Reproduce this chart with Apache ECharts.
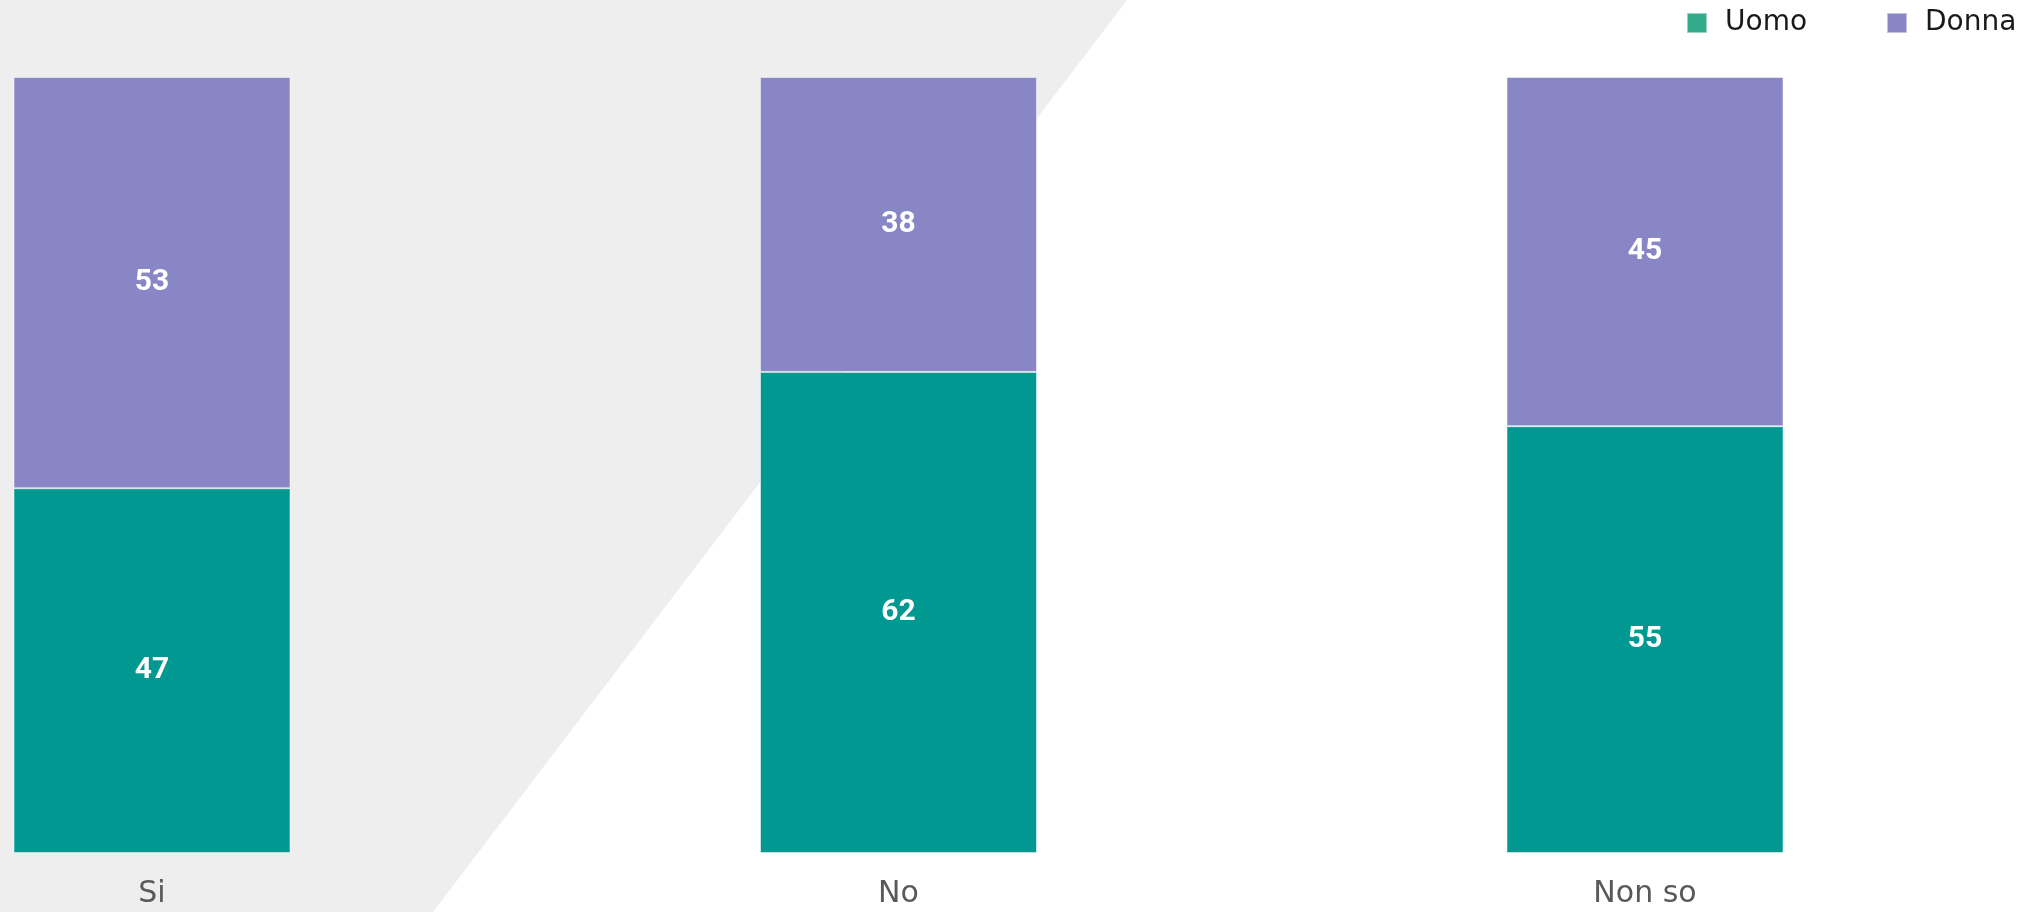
<!DOCTYPE html>
<html>
<head>
<meta charset="utf-8">
<script src="https://cdn.jsdelivr.net/npm/echarts@6/dist/echarts.min.js"></script>
<style>
html,body{margin:0;padding:0;background:#fff;}
#chart{width:2042px;height:912px;}
</style>
</head>
<body>
<div id="chart"></div>
<script>
const categories = ['Si', 'No', 'Non so'];
const seriesNames = ['Uomo', 'Donna'];
const uomoValues = [47, 62, 55];
const donnaValues = [53, 38, 45];

const chart = echarts.init(document.getElementById('chart'));
const labelStyle = {
  show: true, position: 'inside', color: '#ffffff',
  fontFamily: 'Roboto', fontWeight: 'bold', fontSize: 30
};
const legendText = { color: '#1a1a1a', fontFamily: 'DejaVu Sans', fontSize: 28, lineHeight: 28, padding: [0, 0, 0, 13] };
chart.setOption({
  animation: false,
  backgroundColor: '#ffffff',
  graphic: [{
    type: 'polygon', z: -10, silent: true,
    shape: { points: [[0, 0], [1127, 0], [433, 912], [0, 912]] },
    style: { fill: '#eeeeee' }
  }],
  legend: [
    { data: [{ name: seriesNames[0], itemStyle: { color: '#33aa8a' } }], left: 1686, top: 9, padding: 0,
      itemWidth: 20, itemHeight: 20, itemGap: 0, textStyle: legendText, icon: 'rect' },
    { data: [{ name: seriesNames[1], itemStyle: { color: '#8886c5' } }], left: 1886, top: 9, padding: 0,
      itemWidth: 20, itemHeight: 20, itemGap: 0, textStyle: legendText, icon: 'rect' }
  ],
  grid: { left: 152, right: 397, top: 77, bottom: 59, containLabel: false },
  xAxis: {
    type: 'category', data: categories, boundaryGap: false,
    axisLine: { show: false }, axisTick: { show: false },
    axisLabel: { color: '#595959', fontFamily: 'DejaVu Sans', fontSize: 30, margin: 26 }
  },
  yAxis: { type: 'value', min: 0, max: 100, show: false, splitLine: { show: false } },
  series: [
    { name: seriesNames[0], type: 'bar', stack: 'a', data: uomoValues, barWidth: 277,
      itemStyle: { color: '#019891', borderColor: 'rgba(255,255,255,0.5)', borderWidth: 1 },
      label: labelStyle },
    { name: seriesNames[1], type: 'bar', stack: 'a', data: donnaValues, barWidth: 277,
      itemStyle: { color: '#8886c5', borderColor: 'rgba(255,255,255,0.5)', borderWidth: 1 },
      label: labelStyle }
  ]
});
</script>
</body>
</html>
